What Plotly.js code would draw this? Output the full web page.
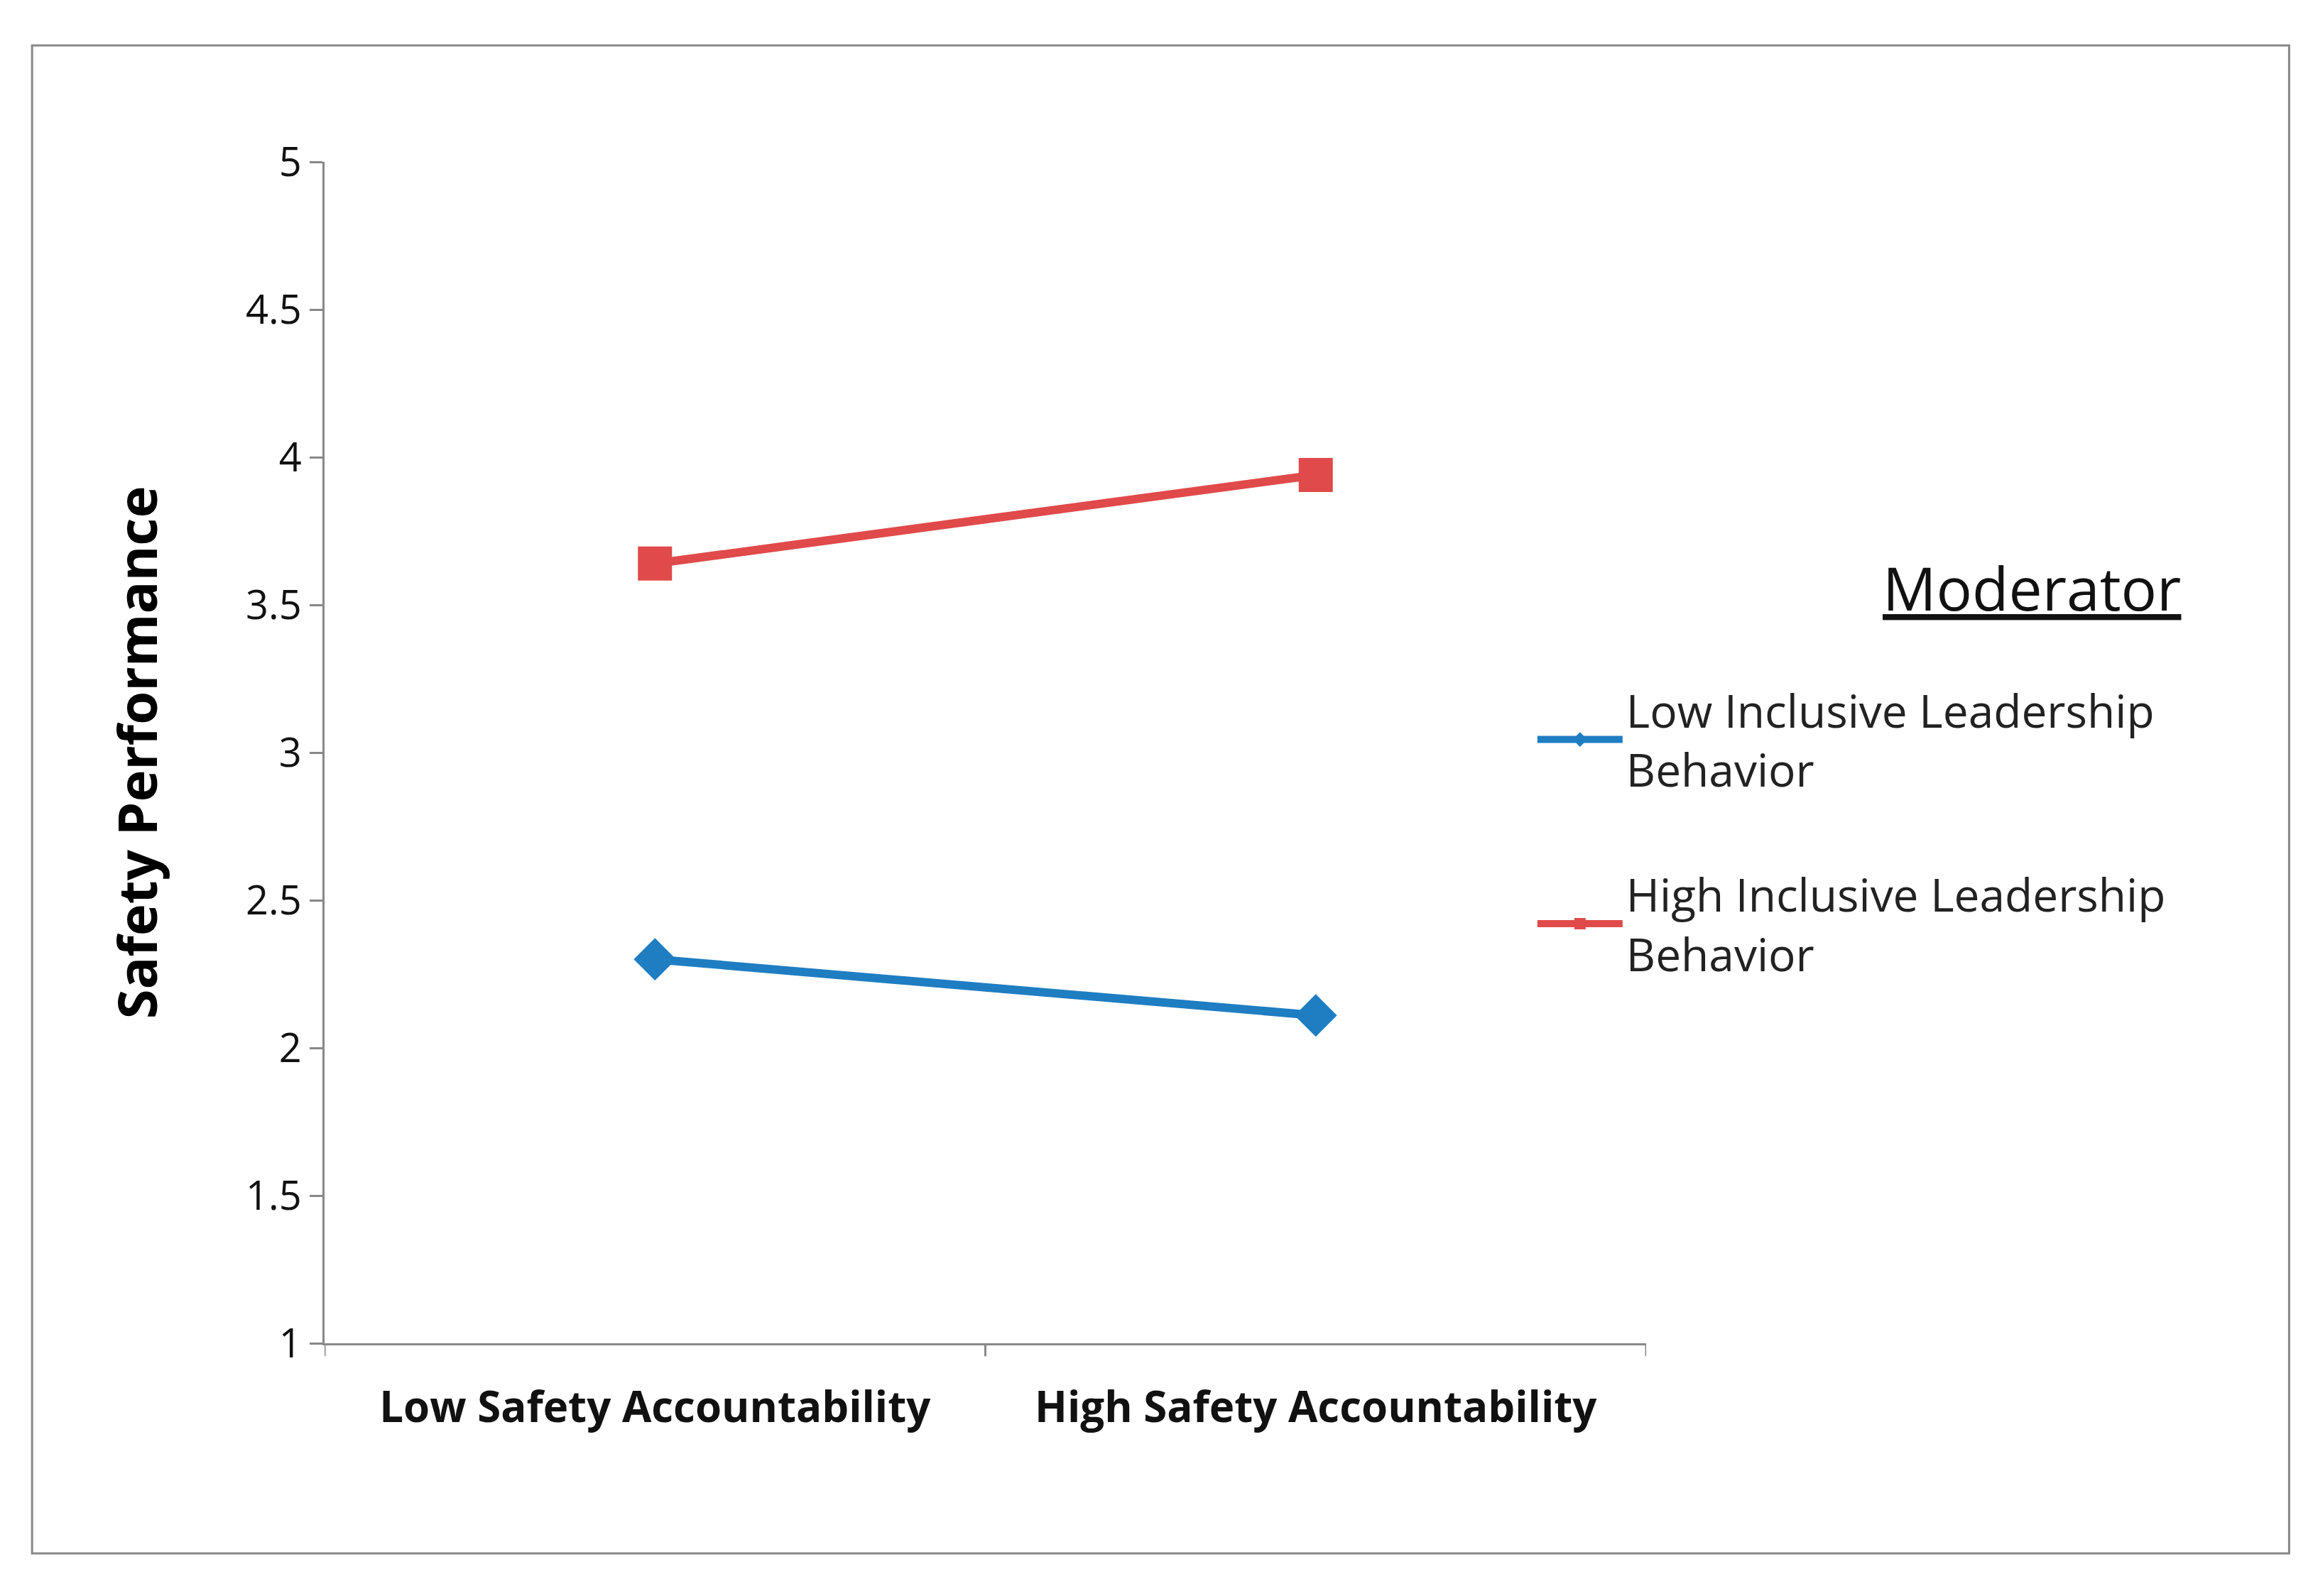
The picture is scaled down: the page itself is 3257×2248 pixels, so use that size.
<!DOCTYPE html>
<html><head><meta charset="utf-8">
<script src="https://cdn.plot.ly/plotly-3.0.1.min.js"></script>
<style>body{margin:0;background:#fff}</style></head>
<body><div id="c" style="width:3257px;height:2248px"></div>
<script>
const categories = ["Low Safety Accountability", "High Safety Accountability"];
const lowInclusive = [2.30, 2.11];
const highInclusive = [3.64, 3.94];
const yTicks = [1, 1.5, 2, 2.5, 3, 3.5, 4, 4.5, 5];
const seriesNames = ["Low Inclusive Leadership<br>Behavior", "High Inclusive Leadership<br>Behavior"];

const F = "Open Sans, Noto Sans, sans-serif";
const traces = [
 {x:[0,1], y:lowInclusive, name:seriesNames[0], legendgroup:"a", mode:"lines+markers",
  line:{color:"#1F7DC2", width:12}, marker:{symbol:"diamond", size:46, color:"#1F7DC2"}},
 {x:[0,1], y:highInclusive, name:seriesNames[1], legendgroup:"b", mode:"lines+markers",
  line:{color:"#E04A4A", width:12}, marker:{symbol:"square", size:48, color:"#E04A4A"}}
];
const layout = {
 width:3257, height:2248, paper_bgcolor:"#fff", plot_bgcolor:"#fff",
 margin:{l:457, r:939, t:228, b:356},
 showlegend:true,
 legend:{x:0.915, xanchor:"left", y:0.565, yanchor:"top", font:{family:F, size:64, color:"#222"},
  tracegroupgap:90, itemwidth:120, bgcolor:"rgba(0,0,0,0)"},
 xaxis:{range:[-0.5,1.5], tickvals:[0,1], ticktext:categories, showgrid:false, zeroline:false,
  showline:true, linecolor:"#888", linewidth:3, ticks:"",
  tickfont:{family:F, size:60, color:"#111", weight:"bold"}, ticklabelstandoff:36},
 yaxis:{range:[1,5], tickvals:yTicks, ticktext:yTicks.map(String), showgrid:false, zeroline:false,
  showline:true, linecolor:"#888", linewidth:3, ticks:"outside", ticklen:18, tickwidth:3, tickcolor:"#888",
  tickfont:{family:F, size:56, color:"#111"},
  title:{text:"Safety Performance", font:{family:F, size:76, color:"#000", weight:"bold"}, standoff:100}},
 shapes:[
  {type:"rect", xref:"paper", yref:"paper", x0:-0.2213, x1:1.4865, y0:-0.1779, y1:1.0985, line:{color:"#888", width:3}},
  {type:"line", xref:"x", yref:"paper", x0:-0.5, x1:-0.5, y0:0, y1:-0.011, line:{color:"#888", width:3}},
  {type:"line", xref:"x", yref:"paper", x0:0.5, x1:0.5, y0:0, y1:-0.011, line:{color:"#888", width:3}},
  {type:"line", xref:"x", yref:"paper", x0:1.5, x1:1.5, y0:0, y1:-0.011, line:{color:"#888", width:3}}
 ],
 annotations:[{text:"<u>Moderator</u>", xref:"paper", yref:"paper", x:1.292, y:0.64, xanchor:"center", yanchor:"middle",
  showarrow:false, font:{family:F, size:84, color:"#111"}}]
};
Plotly.newPlot("c", traces, layout, {displayModeBar:false});
</script></body></html>
